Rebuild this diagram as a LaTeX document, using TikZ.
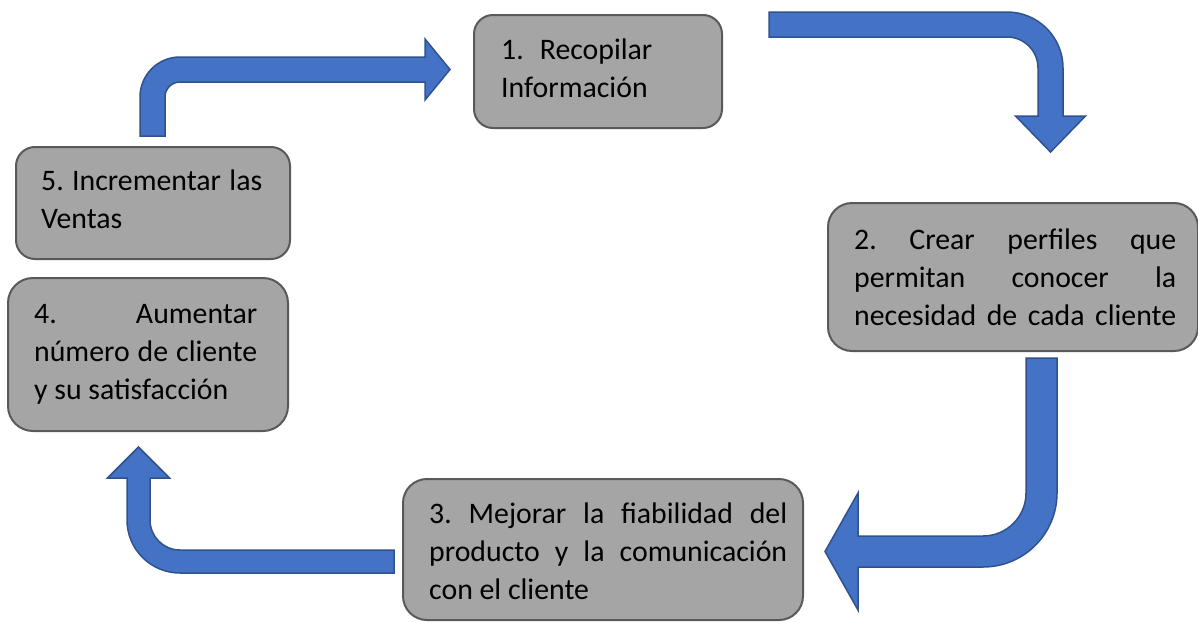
\documentclass[tikz,border=0pt]{standalone}
\usepackage{fontspec}
\setmainfont{Carlito}
\definecolor{boxgray}{HTML}{A5A5A5}
\definecolor{boxline}{HTML}{595959}
\definecolor{arrowblue}{HTML}{4472C4}
\definecolor{arrowline}{HTML}{2F528F}
\hyphenpenalty=10000
\tolerance=10000
\hbadness=10000
\hfuzz=5pt
\begin{document}
\begin{tikzpicture}[x=1pt,y=-1pt,
	stepbox/.style={draw=boxline,line width=2pt,fill=boxgray,rounded corners=#1,anchor=north west,inner sep=0pt},
	steptext/.style={anchor=north west,inner sep=0pt,align=justify,font={\fontsize{29.8}{38.3}\selectfont\frenchspacing}},
	bentarrow/.style={draw=arrowline,line width=1.5pt,fill=arrowblue,line join=miter}]
	\useasboundingbox (0,0) rectangle (1198,621);
	\node[stepbox=19pt,minimum width=248,minimum height=113] (b1) at (473,14) {};
	\node[stepbox=24pt,minimum width=370,minimum height=148] (b2) at (827,202) {};
	\node[stepbox=24pt,minimum width=400,minimum height=141] (b3) at (402,478) {};
	\node[stepbox=25pt,minimum width=280,minimum height=153] (b4) at (7,277) {};
	\node[stepbox=19pt,minimum width=274,minimum height=112] (b5) at (15,146) {};
	\node[steptext,align=left] (t1) at (501,32.2) {\strut 1.\hspace{16pt}Recopilar\\Información};
	\node[steptext,text width=322pt] (t2) at (854,222.2) {\strut 2. Crear perfiles que\linebreak permitan conocer la\linebreak necesidad de cada cliente\parfillskip=0pt\par};
	\node[steptext,text width=358pt] (t3) at (429,496.2) {\strut 3. Mejorar la fiabilidad del\linebreak producto y la comunicación\linebreak con el cliente};
	\node[steptext,text width=223pt] (t4) at (34,296.2) {\strut 4. Aumentar\linebreak número de cliente\linebreak y su satisfacción};
	\node[steptext,text width=221pt] (t5) at (41,163.2) {\strut 5. Incrementar las\linebreak Ventas};
	\draw[bentarrow] (140,136) -- (140,97) arc[start angle=180,end angle=270,radius=40] -- (425,57) -- (425,39) -- (450,69.5) -- (425,100) -- (425,82) -- (180,82) arc[start angle=270,end angle=180,radius=15] -- (165,136) -- cycle;
	\draw[bentarrow] (769,12) -- (1007,12) arc[start angle=-90,end angle=0,radius=56] -- (1063,116) -- (1085.5,116) -- (1050.5,152) -- (1015.5,116) -- (1038,116) -- (1038,68) arc[start angle=0,end angle=-90,radius=31] -- (769,37) -- cycle;
	\draw[bentarrow] (1057,358) -- (1057,493) arc[start angle=0,end angle=90,radius=74] -- (858,567) -- (858,610) -- (825,551.5) -- (858,493) -- (858,536) -- (983,536) arc[start angle=90,end angle=0,radius=43] -- (1026,358) -- cycle;
	\draw[bentarrow] (394,573) -- (180,573) arc[start angle=90,end angle=180,radius=53] -- (127,478) -- (107.5,478) -- (138.5,447) -- (169.5,478) -- (150,478) -- (150,520) arc[start angle=180,end angle=90,radius=30] -- (394,550) -- cycle;
\end{tikzpicture}
\end{document}
